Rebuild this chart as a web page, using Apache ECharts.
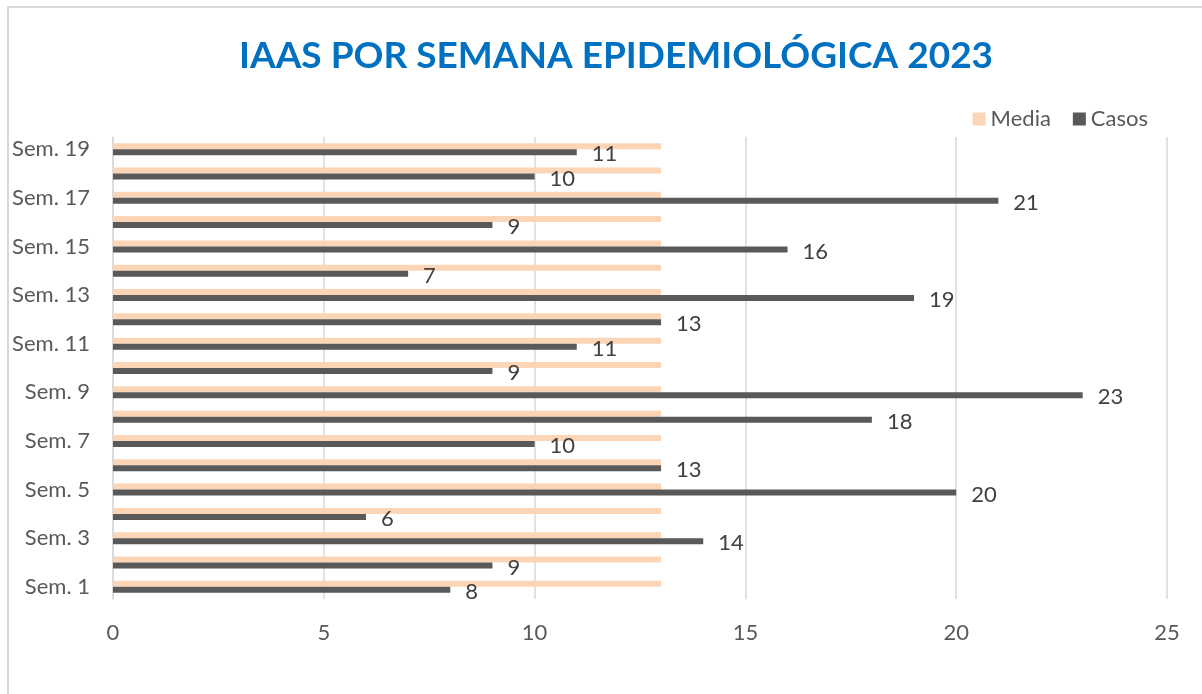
<!DOCTYPE html>
<html>
<head>
<meta charset="utf-8">
<script src="https://cdn.jsdelivr.net/npm/echarts@6/dist/echarts.min.js"></script>
<style>
html,body{margin:0;padding:0;background:#fff;}
#frame{position:absolute;left:7px;top:6px;width:1200px;height:700px;border:2px solid #d9d9d9;box-sizing:border-box;}
#chart{position:absolute;left:0;top:0;width:1202px;height:694px;}
</style>
</head>
<body>
<div id="frame"></div>
<div id="chart"></div>
<script>
const categories = ["Sem. 1","Sem. 2","Sem. 3","Sem. 4","Sem. 5","Sem. 6","Sem. 7","Sem. 8","Sem. 9","Sem. 10","Sem. 11","Sem. 12","Sem. 13","Sem. 14","Sem. 15","Sem. 16","Sem. 17","Sem. 18","Sem. 19"];
const casos = [8,9,14,6,20,13,10,18,23,9,11,13,19,7,16,9,21,10,11];
const media = [13,13,13,13,13,13,13,13,13,13,13,13,13,13,13,13,13,13,13];
const xTicks = [0,5,10,15,20,25];

const font = "Lato, 'Open Sans', sans-serif";
const chart = echarts.init(document.getElementById('chart'), null, {renderer:'canvas'});
chart.setOption({
  animation:false,
  title:{text:"IAAS POR SEMANA EPIDEMIOLÓGICA 2023",left:234,top:33,
    textStyle:{color:'#0070C0',fontSize:37,fontWeight:'bold',fontFamily:font}},
  legend:{right:49,top:103,itemWidth:13,itemHeight:13,itemGap:22,
    textStyle:{color:'#595959',fontSize:22,fontFamily:font},
    data:[{name:'Media',icon:'rect'},{name:'Casos',icon:'rect'}]},
  grid:{left:113,right:35,top:137,bottom:95,containLabel:false},
  xAxis:{type:'value',min:xTicks[0],max:xTicks[xTicks.length-1],interval:5,
    axisLine:{show:false},axisTick:{show:false},
    splitLine:{show:true,lineStyle:{color:'#d9d9d9',width:1.5}},
    axisLabel:{color:'#595959',fontSize:22,fontFamily:font,margin:23}},
  yAxis:{type:'category',data:categories,
    axisLine:{show:true,lineStyle:{color:'#d9d9d9',width:1.5}},axisTick:{show:false},
    axisLabel:{interval:1,color:'#595959',fontSize:22,fontFamily:font,margin:23}},
  series:[
    {name:'Media',type:'bar',data:media,barWidth:6,barGap:'0%',
     itemStyle:{color:'#FBD5B5'}},
    {name:'Casos',type:'bar',data:casos,barWidth:6,barGap:'0%',
     itemStyle:{color:'#595959'},
     label:{show:true,position:'right',distance:15,offset:[0,2],color:'#404040',fontSize:22,fontFamily:font}}
  ]
});
</script>
</body>
</html>
